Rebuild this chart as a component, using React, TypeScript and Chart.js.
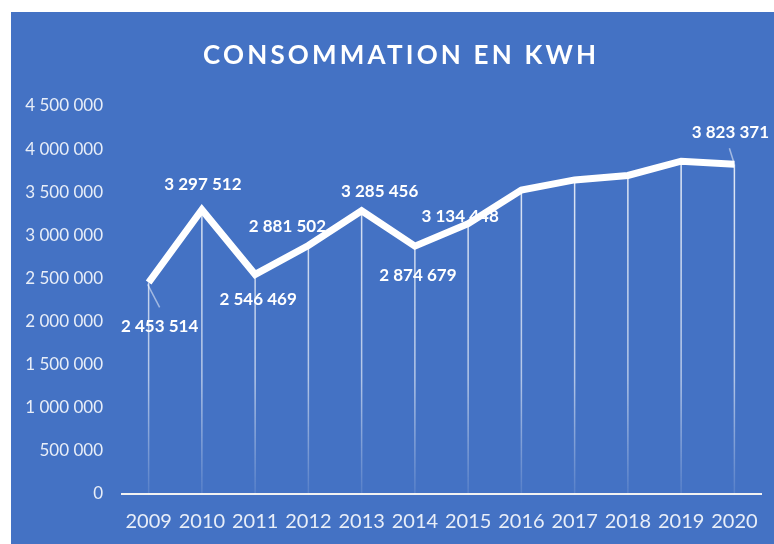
import React, { useEffect, useRef } from "react";
import { Chart, registerables } from "chart.js";

Chart.register(...registerables);

const titleText = "CONSOMMATION EN KWH";
const years = ["2009", "2010", "2011", "2012", "2013", "2014", "2015", "2016", "2017", "2018", "2019", "2020"];
const consumption = [2453514, 3297512, 2546469, 2881502, 3285456, 2874679, 3134448, 3525000, 3643000, 3694000, 3860000, 3823371];
const showLabel = [true, true, true, true, true, true, true, false, false, false, false, true];
const yMin = 0;
const yMax = 4500000;
const yStep = 500000;

// label offsets (px) relative to each point
const labelDx = [11, 1, 3, -21, 18, 3, -8, 0, 0, 0, 0, -4];
const labelDy = [44, -25, 25, -19, -19, 29, -7, 0, 0, 0, 0, -32];

const BLUE = "#4472C4";
const FONT = "Lato, 'Open Sans', sans-serif";

const fmt = (v: number) => Math.round(v).toString().replace(/\B(?=(\d{3})+(?!\d))/g, " ");

const dropLinesPlugin = {
  id: "dropLines",
  beforeDatasetsDraw(chart: any) {
    const { ctx, chartArea } = chart;
    const meta = chart.getDatasetMeta(0);
    const grad = ctx.createLinearGradient(0, chartArea.top, 0, chartArea.bottom);
    grad.addColorStop(0, "rgba(255,255,255,0.9)");
    grad.addColorStop(0.7, "rgba(255,255,255,0.6)");
    grad.addColorStop(1, "rgba(255,255,255,0.1)");
    ctx.save();
    ctx.strokeStyle = grad;
    ctx.lineWidth = 1.5;
    meta.data.forEach((pt: any) => {
      ctx.beginPath();
      ctx.moveTo(pt.x, pt.y);
      ctx.lineTo(pt.x, chartArea.bottom);
      ctx.stroke();
    });
    ctx.restore();
  },
};

const labelsPlugin = {
  id: "valueLabels",
  afterDatasetsDraw(chart: any) {
    const { ctx } = chart;
    const meta = chart.getDatasetMeta(0);
    ctx.save();
    // leader lines
    ctx.strokeStyle = "rgba(255,255,255,0.5)";
    ctx.lineWidth = 1.5;
    const p0 = meta.data[0];
    ctx.beginPath();
    ctx.moveTo(p0.x - 1, p0.y + 2);
    ctx.lineTo(p0.x + 11, p0.y + 25);
    ctx.stroke();
    const pL = meta.data[meta.data.length - 1];
    ctx.beginPath();
    ctx.moveTo(pL.x, pL.y);
    ctx.lineTo(pL.x - 5, pL.y - 16);
    ctx.stroke();

    ctx.fillStyle = "#ffffff";
    ctx.font = `bold 17px ${FONT}`;
    ctx.textAlign = "center";
    ctx.textBaseline = "middle";
    meta.data.forEach((pt: any, i: number) => {
      if (!showLabel[i]) return;
      ctx.fillText(fmt(consumption[i]), pt.x + labelDx[i], pt.y + labelDy[i]);
    });
    ctx.restore();
  },
};

const titlePlugin = {
  id: "customTitle",
  afterDraw(chart: any) {
    const { ctx } = chart;
    ctx.save();
    ctx.font = `bold 26px ${FONT}`;
    ctx.fillStyle = "#ffffff";
    ctx.textBaseline = "alphabetic";
    ctx.textAlign = "left";
    (ctx as any).letterSpacing = "0px";
    const w = ctx.measureText(titleText).width;
    const target = 393;
    const n = titleText.length;
    const ls = Math.max(0, (target - w) / (n - 1));
    (ctx as any).letterSpacing = `${ls}px`;
    const cx = 388.5;
    ctx.fillText(titleText, cx - target / 2, 52);
    ctx.restore();
  },
};

export default function App() {
  const ref = useRef<HTMLCanvasElement>(null);
  useEffect(() => {
    document.body.style.margin = "0";
    const chart = new Chart(ref.current!, {
      type: "line",
      data: {
        labels: years,
        datasets: [
          {
            data: consumption,
            borderColor: "#ffffff",
            borderWidth: 7,
            borderJoinStyle: "miter",
            borderCapStyle: "butt",
            pointRadius: 0,
            pointHoverRadius: 0,
            tension: 0,
            fill: false,
          },
        ],
      },
      options: {
        responsive: false,
        animation: false,
        events: [],
        layout: { padding: { top: 94, right: 10, bottom: 0, left: 0 } },
        plugins: {
          legend: { display: false },
          title: { display: false },
          tooltip: { enabled: false },
        },
        scales: {
          x: {
            type: "category",
            offset: true,
            grid: { display: false, drawTicks: false },
            border: { display: true, color: "#f2f2f2", width: 2 },
            ticks: {
              color: "rgba(255,255,255,0.88)",
              font: { family: FONT, size: 20 },
              padding: 16,
              maxRotation: 0,
              autoSkip: false,
            },
            afterFit: (s: any) => {
              s.height = 50;
            },
          },
          y: {
            min: yMin,
            max: yMax,
            grid: { display: false, drawTicks: false },
            border: { display: false },
            ticks: {
              stepSize: yStep,
              color: "rgba(255,255,255,0.88)",
              font: { family: FONT, size: 17 },
              padding: 19,
              callback: (v: any) => fmt(Number(v)),
            },
            afterFit: (s: any) => {
              s.width = 111;
            },
          },
        },
      },
      plugins: [dropLinesPlugin, labelsPlugin, titlePlugin],
    } as any);
    return () => chart.destroy();
  }, []);

  return (
    <div style={{ position: "relative", width: 774, height: 544, background: "#ffffff", overflow: "hidden" }}>
      <div style={{ position: "absolute", left: 11, top: 12, width: 763, height: 532, background: BLUE }}>
        <canvas ref={ref} width={763} height={532} style={{ display: "block", width: 763, height: 532 }} />
      </div>
    </div>
  );
}
